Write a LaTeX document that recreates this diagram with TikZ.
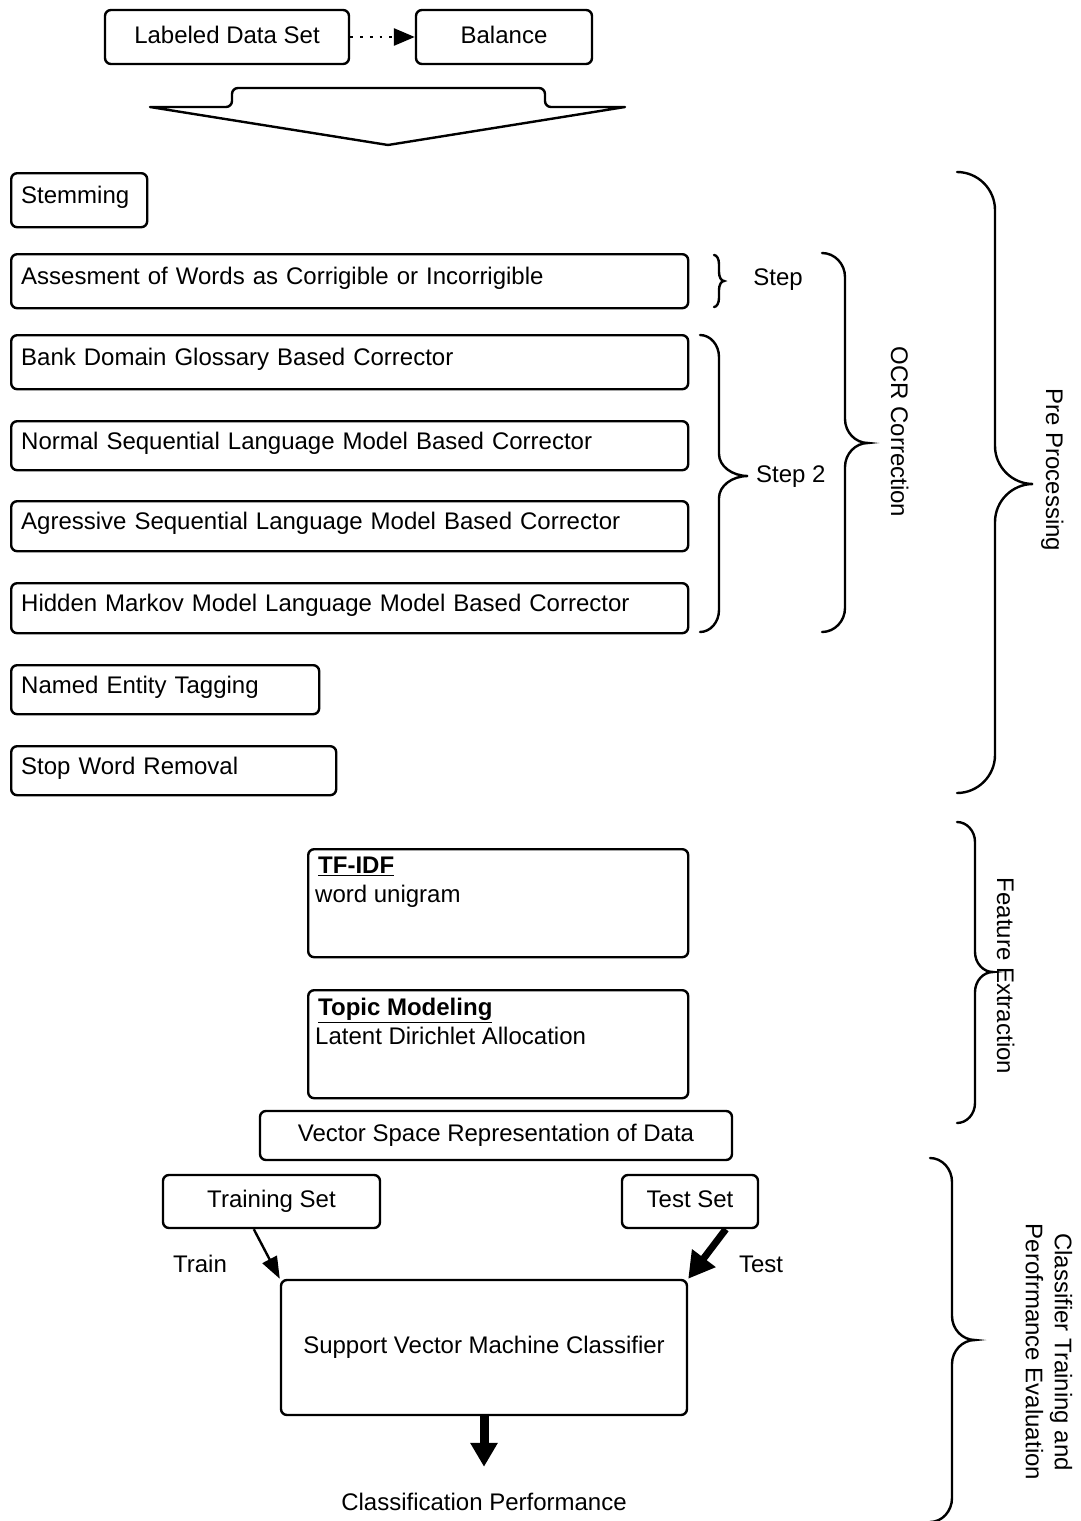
\documentclass[tikz,border=0pt]{standalone}
\usepackage{fontspec}
\setmainfont{Liberation Sans}
\usetikzlibrary{arrows.meta}

% right-facing curly brace: #1 end x, #2 spine x, #3 tip x, #4 top y, #5 tip y, #6 bottom y, #7 curl size
\newcommand\drawbrace[7]{%
  \draw[bracestyle] (#1,#4)
    .. controls ({#1+0.55*(#2-#1)},#4) and (#2,{#4+0.45*#7}) .. (#2,{#4+#7})
    -- (#2,{#5-#7})
    .. controls (#2,{#5-0.45*#7}) and ({#2+0.45*(#3-#2)},#5) .. (#3,#5)
    .. controls ({#2+0.45*(#3-#2)},#5) and (#2,{#5+0.45*#7}) .. (#2,{#5+#7})
    -- (#2,{#6-#7})
    .. controls (#2,{#6-0.45*#7}) and ({#1+0.55*(#2-#1)},#6) .. (#1,#6);}

\tikzset{
  box/.style={draw, line width=2.4pt, rounded corners=6pt, inner ysep=0pt,
    text height=17pt, text depth=5pt},
  cbox/.style={box, inner xsep=0pt, align=center},
  lbox/.style={box, inner xsep=10pt, align=left, anchor=north west, text depth=10pt},
  bracestyle/.style={line width=2.4pt, line cap=round},
  lbl/.style={inner sep=0pt, text height=17pt, text depth=5pt},
  conn/.style={line width=2.4pt},
}

\begin{document}
\begin{tikzpicture}[x=1pt, y=-1pt, font=\fontsize{24}{29}\selectfont]
\useasboundingbox (0,0) rectangle (1081,1521);

% input data
\node[cbox, minimum width=244pt, minimum height=54pt] (lds) at (227,37) {Labeled Data Set};
\node[cbox, minimum width=176pt, minimum height=54pt] (bal) at (504,37) {Balance};
\draw[line width=2.8pt, dash pattern=on 2.8pt off 7pt, -{Triangle[length=21pt,width=17pt]}] (lds) -- (bal);

% block arrow into the pipeline
\draw[line width=2.4pt, line join=round] (150,107)
  [rounded corners=6pt] -- (232,107) -- (232,88) -- (545,88) -- (545,107)
  [sharp corners] -- (625,107) -- (388,145) -- cycle;

% pre-processing steps
\node[lbox, text width=116pt, minimum height=54pt] (stem) at (10,172) {Stemming};
\node[lbox, text width=657pt, minimum height=54pt] (assess) at (10,253) {Assesment of Words as Corrigible or Incorrigible};
\node[lbox, text width=657pt, minimum height=54pt] (bank) at (10,334) {Bank Domain Glossary Based Corrector};
\node[lbox, text width=657pt, minimum height=49pt] (normal) at (10,420) {Normal Sequential Language Model Based Corrector};
\node[lbox, text width=657pt, minimum height=50pt] (agr) at (10,500) {Agressive Sequential Language Model Based Corrector};
\node[lbox, text width=657pt, minimum height=50pt] (hmm) at (10,582) {Hidden Markov Model Language Model Based Corrector};
\node[lbox, text width=288pt, minimum height=49pt] (ner) at (10,664) {Named Entity Tagging};
\node[lbox, text width=305pt, minimum height=49pt] (stop) at (10,745) {Stop Word Removal};

% grouping braces with labels
\drawbrace{714}{719}{724}{255}{281}{307}{9}
\node[lbl] (steplbl) at (778,279) {Step};
\drawbrace{700}{719}{748}{335}{476}{632}{22}
\node[lbl, anchor=west] (step2lbl) at (756,476) {Step 2};
\drawbrace{822}{845}{868}{253}{443}{632}{24}
\node[lbl, rotate=-90] (ocrlbl) at (897,432) {OCR Correction};
\drawbrace{957}{995}{1033}{172}{484}{793}{38}
\node[lbl, rotate=-90] (prelbl) at (1052,470) {Pre Processing};
\drawbrace{957}{975}{993}{822}{972}{1123}{20}
\node[lbl, rotate=-90] (featlbl) at (1003,976) {Feature Extraction};
\drawbrace{930}{952}{975}{1158}{1340}{1522}{24}
\node[rotate=-90, align=center, inner sep=0pt] (clslbl) at (1049,1352) {Classifier Training and\\Perofrmance Evaluation};

% feature extraction
\node[box, minimum width=380pt, minimum height=108pt, anchor=north west] (tfidf) at (307,848) {};
\node[anchor=north west, align=left, inner sep=0pt] (tfidftxt) at ([xshift=8pt,yshift=-9pt]tfidf.north west)
  {\hspace{3pt}\underline{\textbf{TF-IDF}}\\word unigram};
\node[box, minimum width=380pt, minimum height=108pt, anchor=north west] (topic) at (307,989) {};
\node[anchor=north west, align=left, inner sep=0pt] (topictxt) at ([xshift=8pt,yshift=-9pt]topic.north west)
  {\hspace{3pt}\underline{\textbf{Topic Modeling}}\\Latent Dirichlet Allocation};
\node[cbox, minimum width=472pt, minimum height=49pt] (vsr) at (496,1135.5) {Vector Space Representation of Data};

% classifier training and evaluation
\node[cbox, minimum width=217pt, minimum height=53pt] (train) at (271.5,1201.5) {Training Set};
\node[cbox, minimum width=136pt, minimum height=53pt] (test) at (690,1201.5) {Test Set};
\node[cbox, minimum width=406pt, minimum height=135pt] (svm) at (484,1347.5) {Support Vector Machine Classifier};
\node[lbl] (trainlbl) at (200,1266) {Train};
\node[lbl] (testlbl) at (761,1266) {Test};
\node[lbl] (perf) at (484,1504) {Classification Performance};

\draw[conn, -{Triangle[length=22pt,width=16pt]}] ([xshift=92pt]train.south west) -- (svm.north west);
\draw[line width=7pt, -{Triangle[length=26pt,width=28pt]}] ([xshift=105pt]test.south west) -- (svm.north east);
\draw[line width=9pt, -{Triangle[length=24pt,width=26pt]}] (svm.south) -- ([yshift=26pt]perf.north);
\end{tikzpicture}
\end{document}
